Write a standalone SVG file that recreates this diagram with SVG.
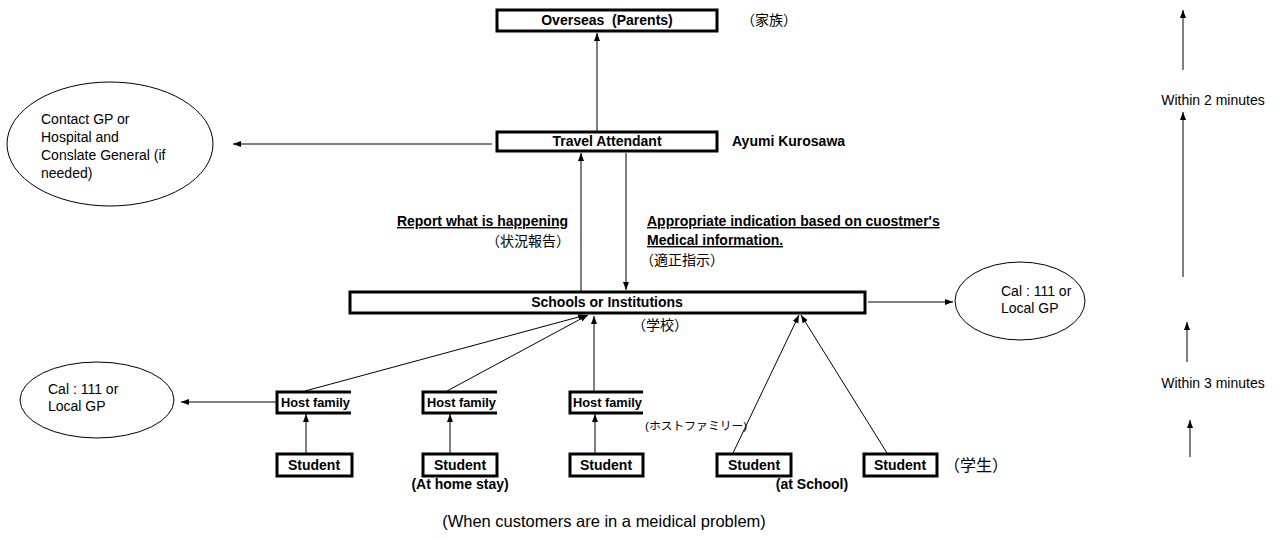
<svg xmlns="http://www.w3.org/2000/svg" width="1280" height="540" viewBox="0 0 1280 540">
<defs>
<marker id="ah" markerWidth="9" markerHeight="7" refX="8" refY="3" orient="auto" markerUnits="userSpaceOnUse">
<path d="M0,0 L8,3 L0,6 z" fill="#000"/>
</marker>
<style>
.box{fill:#fff;stroke:#000;stroke-width:3}
.open{fill:none;stroke:#000;stroke-width:3}
.ell{fill:#fff;stroke:#000;stroke-width:1}
.c{fill:none;stroke:#000;stroke-width:1;marker-end:url(#ah)}
.b{font-family:"Liberation Sans",Arial,sans-serif;font-weight:bold;font-size:14px;fill:#000}
.hf{font-family:"Liberation Sans",Arial,sans-serif;font-weight:bold;font-size:12.8px;fill:#000}
.r{font-family:"Liberation Sans",Arial,sans-serif;font-size:14px;fill:#000}
.j{font-family:"Liberation Sans","Noto Sans CJK JP",sans-serif;font-size:14px;fill:#000}
.mid{text-anchor:middle}
.u{text-decoration:underline}
</style>
</defs>
<rect width="1280" height="540" fill="#fff"/>

<g id="connectors">
<path class="c" d="M597,131 V33"/>
<path class="c" d="M492,144 H233"/>
<path class="c" d="M581,291 V153"/>
<path class="c" d="M626,153 V290"/>
<path class="c" d="M868,302 H953"/>
<path class="c" d="M305,391 L586,315"/>
<path class="c" d="M447,391 L588,315"/>
<path class="c" d="M594,391 V316"/>
<path class="c" d="M733,453 L799,315"/>
<path class="c" d="M887,453 L801,315"/>
<path class="c" d="M306,453 V414"/>
<path class="c" d="M450,453 V414"/>
<path class="c" d="M595,453 V414"/>
<path class="c" d="M276,402 H181"/>
<path class="c" d="M1183,70 V10"/>
<path class="c" d="M1183,277 V112"/>
<path class="c" d="M1187,362 V322"/>
<path class="c" d="M1190,457 V420"/>
</g>

<g id="overseas">
<rect class="box" x="497" y="10" width="220" height="21"/>
<text class="b mid" x="607" y="25" style="white-space:pre">Overseas  (Parents)</text>
<text class="j" x="741" y="25">（家族）</text>
</g>

<g id="travel-attendant">
<rect class="box" x="497" y="132" width="220" height="19"/>
<text class="b mid" x="607" y="146">Travel Attendant</text>
<text class="b" x="732" y="146">Ayumi Kurosawa</text>
</g>

<g id="contact-gp">
<ellipse class="ell" cx="110" cy="144" rx="103" ry="62"/>
<text class="r" x="41" y="124">Contact GP or</text>
<text class="r" x="41" y="142">Hospital and</text>
<text class="r" x="41" y="160">Conslate General (if</text>
<text class="r" x="41" y="178">needed)</text>
</g>

<g id="report-label">
<text class="b u" x="568" y="226" text-anchor="end">Report what is happening</text>
<text class="j" x="570" y="246" text-anchor="end">（状況報告）</text>
</g>

<g id="indication-label">
<text class="b u" x="647" y="226">Appropriate indication based on cuostmer's</text>
<text class="b u" x="647" y="245">Medical information.</text>
<text class="j" x="640" y="265">（適正指示）</text>
</g>

<g id="schools">
<rect class="box" x="350" y="292" width="515" height="21"/>
<text class="b mid" x="607" y="307">Schools or Institutions</text>
<text class="j" x="632" y="330">（学校）</text>
</g>

<g id="cal-right">
<ellipse class="ell" cx="1020" cy="301" rx="65" ry="39"/>
<text class="r" x="1001" y="296">Cal : 111 or</text>
<text class="r" x="1001" y="313">Local GP</text>
</g>

<g id="cal-left">
<ellipse class="ell" cx="97" cy="400" rx="77" ry="38"/>
<text class="r" x="48" y="394">Cal : 111 or</text>
<text class="r" x="48" y="411">Local GP</text>
</g>

<g id="host-family-1">
<path class="open" d="M351,392 H277 V413 H351"/>
<text class="hf" x="281" y="407">Host family</text>
</g>
<g id="host-family-2">
<path class="open" d="M497,392 H423 V413 H497"/>
<text class="hf" x="427" y="407">Host family</text>
</g>
<g id="host-family-3">
<path class="open" d="M643,392 H570 V413 H643"/>
<text class="hf" x="573" y="407">Host family</text>
<text class="j" x="645" y="430" style="font-size:11.8px">(ホストファミリー)</text>
</g>

<g id="student-1">
<rect class="box" x="277" y="454" width="75" height="22"/>
<text class="b mid" x="314" y="470">Student</text>
</g>
<g id="student-2">
<rect class="box" x="423" y="454" width="74" height="22"/>
<text class="b mid" x="460" y="470">Student</text>
<text class="b mid" x="460" y="489">(At home stay)</text>
</g>
<g id="student-3">
<rect class="box" x="570" y="454" width="73" height="22"/>
<text class="b mid" x="606" y="470">Student</text>
</g>
<g id="student-4">
<rect class="box" x="717" y="454" width="74" height="22"/>
<text class="b mid" x="754" y="470">Student</text>
<text class="b mid" x="812" y="489">(at School)</text>
</g>
<g id="student-5">
<rect class="box" x="864" y="454" width="73" height="22"/>
<text class="b mid" x="900" y="470">Student</text>
<text class="j" x="944" y="471" style="font-size:16px">（学生）</text>
</g>

<g id="timing">
<text class="r mid" x="1213" y="105">Within 2 minutes</text>
<text class="r mid" x="1213" y="388">Within 3 minutes</text>
</g>

<g id="caption">
<text class="r mid" x="604" y="527" style="font-size:16.5px">(When customers are in a meidical problem)</text>
</g>
</svg>
